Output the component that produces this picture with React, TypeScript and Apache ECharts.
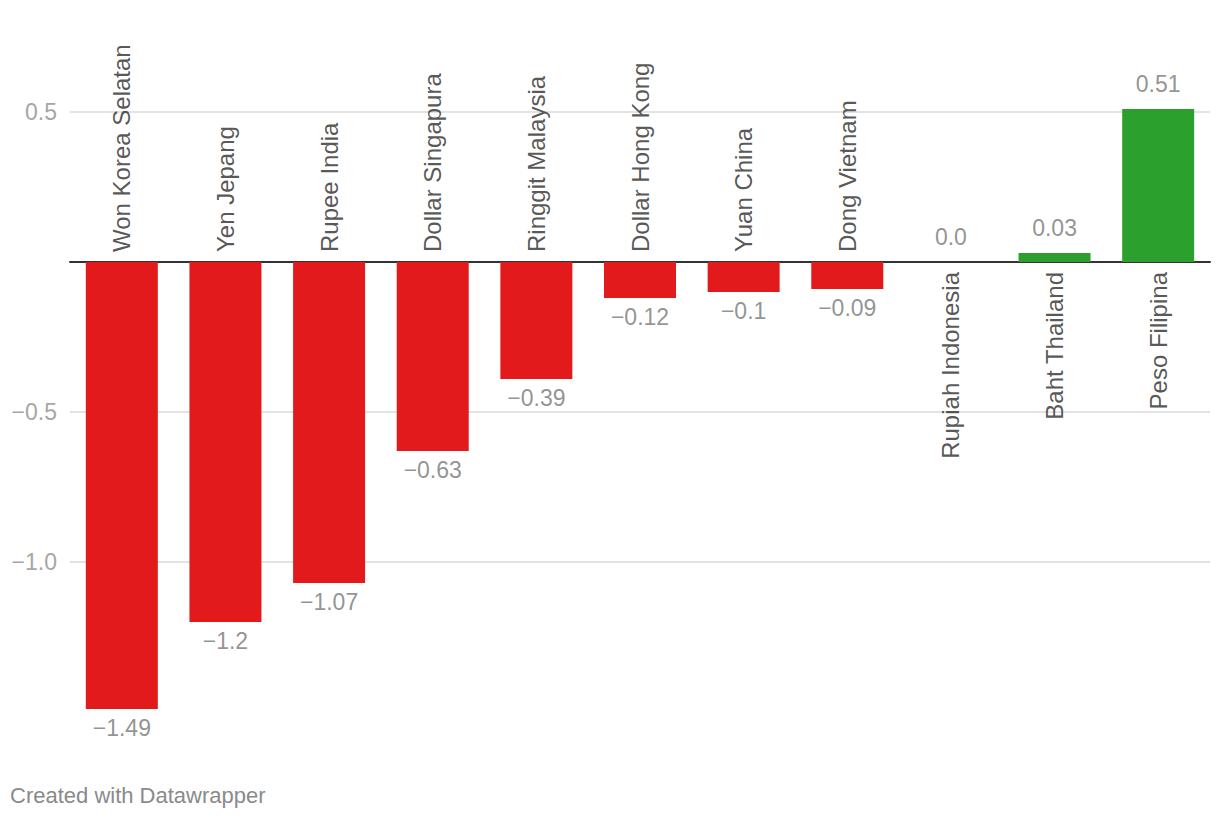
import React, { useEffect, useRef } from "react";
import * as echarts from "echarts";

const categories = [
  "Won Korea Selatan",
  "Yen Jepang",
  "Rupee India",
  "Dollar Singapura",
  "Ringgit Malaysia",
  "Dollar Hong Kong",
  "Yuan China",
  "Dong Vietnam",
  "Rupiah Indonesia",
  "Baht Thailand",
  "Peso Filipina",
];

const values = [-1.49, -1.2, -1.07, -0.63, -0.39, -0.12, -0.1, -0.09, 0.0, 0.03, 0.51];

const yTicks = [-1.5, -1.0, -0.5, 0, 0.5];
const yLabelled = [-1.0, -0.5, 0.5];

const FONT = "'Liberation Sans', Arial, Helvetica, sans-serif";
const RED = "#e31a1c";
const GREEN = "#2ca02c";

const fmtMinus = (s: string) => s.replace("-", "\u2212");

export default function App() {
  const ref = useRef<HTMLDivElement>(null);

  useEffect(() => {
    if (!ref.current) return;
    const chart = echarts.init(ref.current, undefined, { renderer: "svg" });

    const barData = values.map((v) => ({
      value: v,
      itemStyle: { color: v >= 0 ? GREEN : RED },
    }));

    const valueLabelData = values.map((v) => ({
      value: v,
      label: {
        position: v >= 0 ? "top" : "bottom",
        distance: v >= 0 ? 14 : 7,
      },
    }));

    const nameLabelData = values.map((v, i) => ({
      value: 0,
      name: categories[i],
      label: v < 0
        ? { position: "top", align: "left", verticalAlign: "middle", distance: 10 }
        : { position: "bottom", align: "right", verticalAlign: "middle", distance: 10 },
    }));

    chart.setOption({
      animation: false,
      textStyle: { fontFamily: FONT },
      title: {
        text: "Created with Datawrapper",
        left: 10,
        top: 784,
        padding: 0,
        textStyle: { fontFamily: FONT, fontSize: 22, fontWeight: "normal", color: "#8a8a8a" },
      },
      grid: { left: 70, right: 10, top: 82, bottom: 110, containLabel: false },
      xAxis: {
        type: "category",
        data: categories,
        boundaryGap: true,
        axisLine: { show: true, onZero: true, lineStyle: { color: "#333333", width: 2 } },
        axisTick: { show: false },
        axisLabel: { show: false },
        splitLine: { show: false },
      },
      yAxis: {
        type: "value",
        min: yTicks[0],
        max: 0.6,
        interval: 0.5,
        axisLine: { show: false },
        axisTick: { show: false },
        axisLabel: {
          fontFamily: FONT,
          fontSize: 23,
          color: "#a6a6a6",
          margin: 13,
          showMaxLabel: false,
          showMinLabel: false,
          formatter: (v: number) => {
            const ok = yLabelled.some((t) => Math.abs(t - v) < 1e-9);
            return ok ? fmtMinus(v.toFixed(1)) : "";
          },
        },
        splitLine: {
          show: true,
          lineStyle: {
            color: ["rgba(0,0,0,0)", "#e3e3e3", "#e3e3e3", "#e3e3e3", "#e3e3e3"],
            width: 2,
          },
        },
      },
      series: [
        {
          type: "bar",
          data: barData,
          barWidth: 72,
          silent: true,
          z: 2,
        },
        {
          type: "scatter",
          data: valueLabelData,
          symbolSize: 0,
          silent: true,
          z: 3,
          label: {
            show: true,
            fontFamily: FONT,
            fontSize: 23,
            color: "#777777",
            formatter: (p: any) => (p.value === 0 ? "0.0" : fmtMinus(String(p.value))),
          },
        },
        {
          type: "scatter",
          data: nameLabelData,
          symbolSize: 0,
          silent: true,
          z: 3,
          label: {
            show: true,
            rotate: 90,
            fontFamily: FONT,
            fontSize: 24,
            color: "#2b2b2b",
            formatter: (p: any) => p.name,
          },
        },
      ],
    });

    return () => chart.dispose();
  }, []);

  return (
    <div
      ref={ref}
      style={{ position: "absolute", left: 0, top: 0, width: 1220, height: 822, background: "#ffffff" }}
    />
  );
}
